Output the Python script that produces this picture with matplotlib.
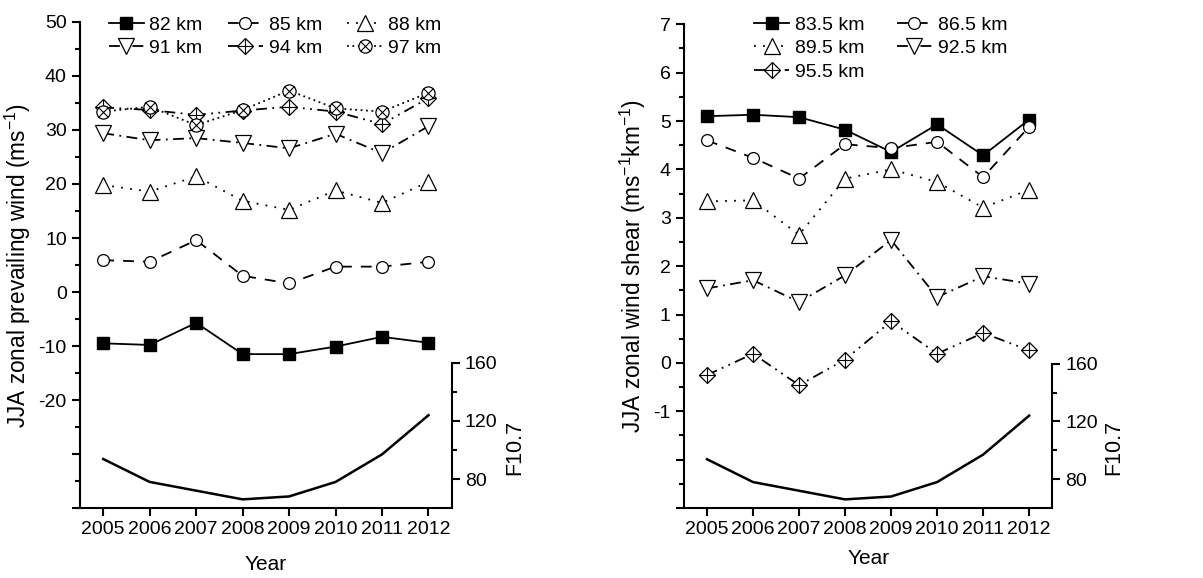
import matplotlib
matplotlib.use('Agg')
import matplotlib.pyplot as plt
from matplotlib.lines import Line2D
import numpy as np

plt.rcParams['font.family'] = ['Liberation Sans', 'DejaVu Sans']
plt.rcParams['mathtext.fontset'] = 'custom'
plt.rcParams['mathtext.rm'] = 'Liberation Sans'
plt.rcParams['mathtext.default'] = 'regular'

years = [2005, 2006, 2007, 2008, 2009, 2010, 2011, 2012]

# F10.7 solar flux (same curve in both panels)
f107 = [93.8, 78.0, 72.0, 66.0, 68.0, 78.0, 97.0, 124.0]

# left panel: JJA zonal prevailing wind (m/s)
wind_82 = [-9.5, -9.8, -5.7, -11.5, -11.5, -10.1, -8.3, -9.4]
wind_85 = [5.9, 5.6, 9.6, 3.0, 1.6, 4.7, 4.7, 5.6]
wind_88 = [19.8, 18.6, 21.4, 16.9, 15.2, 18.8, 16.5, 20.4]
wind_91 = [29.4, 28.1, 28.5, 27.6, 26.6, 29.3, 25.7, 30.7]
wind_94 = [34.2, 33.7, 32.8, 33.6, 34.3, 33.4, 31.1, 35.9]
wind_97 = [33.4, 34.3, 30.9, 33.7, 37.3, 34.0, 33.4, 36.9]

# right panel: JJA zonal wind shear (m/s/km)
shear_835 = [5.10, 5.13, 5.08, 4.82, 4.36, 4.93, 4.29, 5.03]
shear_865 = [4.60, 4.24, 3.81, 4.52, 4.44, 4.57, 3.84, 4.88]
shear_895 = [3.34, 3.36, 2.65, 3.81, 4.00, 3.74, 3.21, 3.58]
shear_925 = [1.54, 1.71, 1.26, 1.81, 2.54, 1.36, 1.79, 1.64]
shear_955 = [-0.25, 0.19, -0.46, 0.07, 0.86, 0.19, 0.62, 0.26]

DASH = (0, (6, 5))
DOT = (0, (1, 4))
DASHDOT = (0, (6, 3, 1, 3))
DASHDOTDOT = (0, (6, 3, 1, 3, 1, 3))
SHORTDOT = (0, (1, 2))

LW = 1.3


def series(ax, x, y, ls, kind):
    """Draw one altitude series; returns a legend handle."""
    mk = dict(color='black', lw=LW, ls=ls)
    if kind == 'square':
        st = dict(marker='s', ms=8, mfc='black', mec='black')
    elif kind == 'circle':
        st = dict(marker='o', ms=8.5, mfc='white', mec='black', mew=0.9)
    elif kind == 'up':
        st = dict(marker='^', ms=11, mfc='white', mec='black', mew=0.9)
    elif kind == 'down':
        st = dict(marker='v', ms=11, mfc='white', mec='black', mew=0.9)
    elif kind == 'diamond':
        st = dict(marker='D', ms=8.5, mfc='white', mec='black', mew=0.9)
    else:
        st = dict(marker='o', ms=9.5, mfc='white', mec='black', mew=0.9)
    ax.plot(x, y, **mk, **st)
    h = Line2D([], [], **mk, **st)
    if kind == 'diamond':
        inner = dict(ls='none', marker='+', ms=11.5, mec='black', mew=0.8)
    elif kind == 'xcircle':
        inner = dict(ls='none', marker='x', ms=7, mec='black', mew=0.8)
    else:
        return h
    ax.plot(x, y, **inner)
    return (h, Line2D([], [], **inner))


def style_axes(ax, ypad):
    ax.spines['top'].set_visible(False)
    ax.spines['right'].set_visible(False)
    for s in ('left', 'bottom'):
        ax.spines[s].set_linewidth(1.5)
    ax.tick_params(which='both', direction='out', width=1.5, labelsize=14)
    ax.tick_params(which='major', length=6)
    ax.tick_params(which='minor', length=3.5)
    ax.set_xlim(2004.5, 2012.5)
    ax.set_xticks(years)
    ax.set_xlabel('Year', fontsize=15, labelpad=ypad)


def add_f107(ax, lx):
    ax2 = ax.twinx()
    ax2.plot(years, f107, color='black', lw=1.8)
    ax2.set_ylim(60, 395)
    for s in ('top', 'left', 'bottom'):
        ax2.spines[s].set_visible(False)
    ax2.spines['right'].set_bounds(60, 160)
    ax2.spines['right'].set_linewidth(1.5)
    ax2.set_yticks([80, 120, 160])
    ax2.set_yticks([100, 140], minor=True)
    ax2.tick_params(which='both', direction='out', width=1.5, labelsize=14)
    ax2.tick_params(which='major', length=6)
    ax2.tick_params(which='minor', length=3.5)
    ax2.set_ylabel('F10.7', fontsize=15.5)
    ax2.yaxis.set_label_coords(lx, 0.125)
    return ax2


fig = plt.figure(figsize=(12.03, 5.78), dpi=100)
fig.patch.set_facecolor('white')

leg_kw = dict(loc='upper left', frameon=False, fontsize=14, handlelength=1.8,
              handletextpad=0.3, labelspacing=0.3, borderaxespad=0)

# ---- left panel
ax = fig.add_axes([0.0665, 0.121, 0.309, 0.841])
style_axes(ax, 12)
h82 = series(ax, years, wind_82, '-', 'square')
h85 = series(ax, years, wind_85, DASH, 'circle')
h88 = series(ax, years, wind_88, DOT, 'up')
h91 = series(ax, years, wind_91, DASHDOT, 'down')
h94 = series(ax, years, wind_94, DASHDOTDOT, 'diamond')
h97 = series(ax, years, wind_97, SHORTDOT, 'xcircle')
ax.set_ylim(-40, 50)
ax.set_yticks(np.arange(-40, 51, 10))
ax.set_yticklabels(['', ''] + [str(v) for v in range(-20, 51, 10)])
ax.set_yticks(np.arange(-35, 50, 10), minor=True)
ax.set_ylabel('JJA zonal prevailing wind (ms$^{-1}$)', fontsize=16.3)
ax.legend([h82, h91, h85, h94, h88, h97],
          ['82 km', '91 km', '85 km', '94 km', '88 km', '97 km'],
          ncol=3, bbox_to_anchor=(0.056, 1.028), columnspacing=1.3, **leg_kw)
add_f107(ax, 1.14)

# ---- right panel
bx = fig.add_axes([0.5686, 0.121, 0.306, 0.837])
style_axes(bx, 8)
g835 = series(bx, years, shear_835, '-', 'square')
g865 = series(bx, years, shear_865, DASH, 'circle')
g895 = series(bx, years, shear_895, DOT, 'up')
g925 = series(bx, years, shear_925, DASHDOT, 'down')
g955 = series(bx, years, shear_955, DASHDOTDOT, 'diamond')
bx.set_ylim(-3, 7)
bx.set_yticks(np.arange(-3, 8, 1))
bx.set_yticklabels(['', ''] + [str(v) for v in range(-1, 8)])
bx.set_yticks(np.arange(-2.5, 7, 1), minor=True)
bx.set_ylabel('JJA zonal wind shear (ms$^{-1}$km$^{-1}$)', fontsize=16.3)
bx.legend([g835, g895, g955, g865, g925],
          ['83.5 km', '89.5 km', '95.5 km', '86.5 km', '92.5 km'],
          ncol=2, bbox_to_anchor=(0.17, 1.033), columnspacing=1.65, **leg_kw)
add_f107(bx, 1.14)

fig.savefig('out.png', dpi=100, facecolor='white')
